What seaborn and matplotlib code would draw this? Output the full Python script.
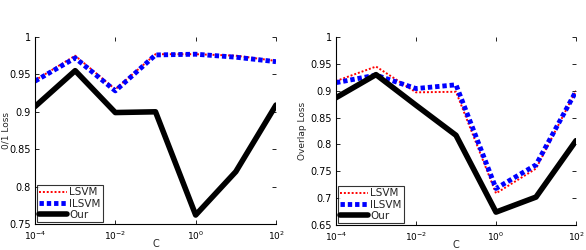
import numpy as np
import pandas as pd
import matplotlib
matplotlib.use("Agg")
import matplotlib.pyplot as plt
import seaborn as sns

C_values = [1e-4, 1e-3, 1e-2, 1e-1, 1e0, 1e1, 1e2]

left_lsvm = [0.942, 0.975, 0.930, 0.977, 0.977, 0.975, 0.968]
left_ilsvm = [0.941, 0.972, 0.928, 0.976, 0.977, 0.973, 0.967]
left_our = [0.907, 0.955, 0.899, 0.900, 0.762, 0.820, 0.909]

right_lsvm = [0.918, 0.945, 0.897, 0.898, 0.709, 0.755, 0.900]
right_ilsvm = [0.915, 0.929, 0.904, 0.911, 0.718, 0.762, 0.899]
right_our = [0.887, 0.930, 0.873, 0.817, 0.674, 0.702, 0.807]

left_yticks = [0.75, 0.8, 0.85, 0.9, 0.95, 1.0]
left_yticklabels = ["0.75", "0.8", "0.85", "0.9", "0.95", "1"]
right_yticks = [0.65, 0.7, 0.75, 0.8, 0.85, 0.9, 0.95, 1.0]
right_yticklabels = ["0.65", "0.7", "0.75", "0.8", "0.85", "0.9", "0.95", "1"]
xticks = [1e-4, 1e-2, 1e0, 1e2]
xticklabels = ["10$^{-4}$", "10$^{-2}$", "10$^{0}$", "10$^{2}$"]

sns.set_theme(style="white")
plt.rcParams['font.family'] = ['DejaVu Sans']

fig = plt.figure(figsize=(5.86, 2.5), dpi=100)
ax1 = fig.add_axes([35/586, 26/250, 241/586, 187/250])
ax2 = fig.add_axes([336/586, 25/250, 240/586, 188/250])

styles = {
    "LSVM": dict(color="red", lw=1.4, dashes=(1, 1)),
    "ILSVM": dict(color="#0000ff", lw=3.5, dashes=(0.9, 0.6)),
    "Our": dict(color="black", lw=4.0, dashes=()),
}

def draw(ax, lsvm, ilsvm, our, yticks, yticklabels, ylabel, ylim, ylab_x):
    df = pd.DataFrame({"C": C_values * 3,
                       "loss": lsvm + ilsvm + our,
                       "method": ["LSVM"] * 7 + ["ILSVM"] * 7 + ["Our"] * 7})
    for m in ["LSVM", "ILSVM", "Our"]:
        st = styles[m]
        sns.lineplot(data=df[df.method == m], x="C", y="loss", ax=ax,
                     color=st["color"], linewidth=st["lw"], label=m,
                     dashes=False)
        line = ax.lines[-1]
        if st["dashes"]:
            line.set_dashes(st["dashes"])
    ax.set_xscale("log")
    ax.set_xlim(1e-4, 1e2)
    ax.set_ylim(*ylim)
    ax.set_xticks(xticks)
    ax.set_xticklabels(xticklabels)
    ax.xaxis.set_minor_locator(matplotlib.ticker.NullLocator())
    ax.set_yticks(yticks)
    ax.set_yticklabels(yticklabels)
    ax.tick_params(axis="both", which="major", labelsize=7, direction="in",
                   length=3, width=0.6, top=True, right=True,
                   bottom=True, left=True, colors="black")
    ax.tick_params(axis="x", labelsize=6.5, pad=4)
    ax.tick_params(axis="y", pad=3)
    ax.set_xlabel("C", fontsize=7, labelpad=-2)
    ax.set_ylabel(ylabel, fontsize=6.5)
    ax.yaxis.set_label_coords(ylab_x, 0.5)
    for s in ["top", "right"]:
        ax.spines[s].set_visible(False)
    for s in ["left", "bottom"]:
        ax.spines[s].set_color("black")
        ax.spines[s].set_linewidth(0.8)
    leg = ax.legend(loc="lower left", fontsize=7.5, frameon=True, fancybox=False,
                    borderpad=0.25, labelspacing=0.12, handlelength=2.7,
                    handletextpad=0.2, borderaxespad=0.15)
    leg.get_frame().set_edgecolor("black")
    leg.get_frame().set_linewidth(0.8)

draw(ax1, left_lsvm, left_ilsvm, left_our, left_yticks, left_yticklabels,
     "0/1 Loss", (0.75, 1.0), -0.103)
draw(ax2, right_lsvm, right_ilsvm, right_our, right_yticks, right_yticklabels,
     "Overlap Loss", (0.65, 1.0), -0.12)

fig.savefig("out.png", dpi=100)
